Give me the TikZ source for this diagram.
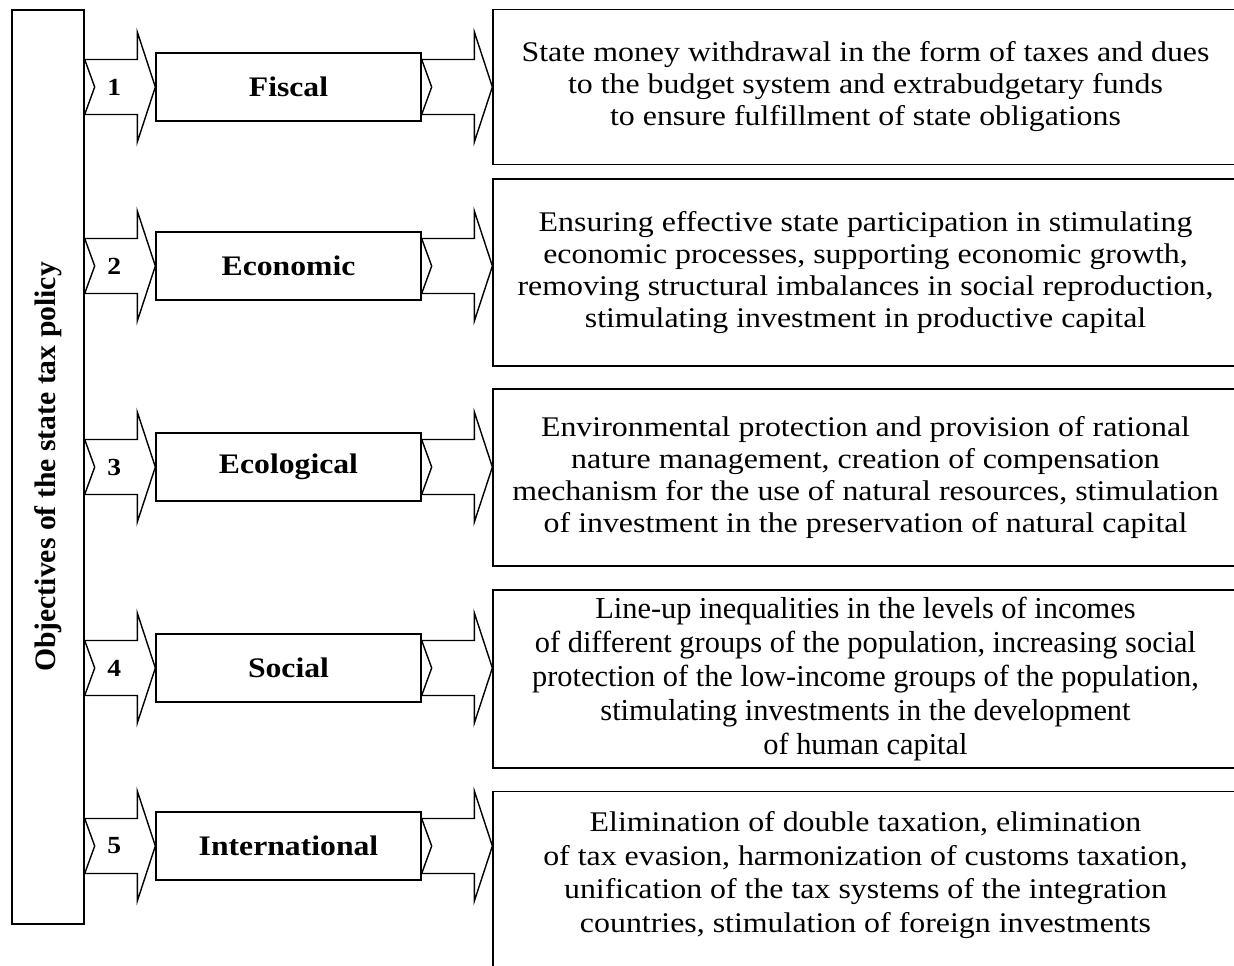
\documentclass[tikz,border=0pt]{standalone}
\usepackage{fontspec}
\setmainfont{Liberation Serif}[FakeStretch=1.12]
\newfontfamily\plainserif{Liberation Serif}
\usetikzlibrary{positioning,calc}

\tikzset{
  boxline/.style={draw, line width=0.8pt, inner sep=0pt},
  objbox/.style={boxline, minimum width=1.44cm, minimum height=18.29cm},
  labelbox/.style={boxline, fill=white, minimum width=5.3cm, minimum height=1.36cm,
    font=\fontsize{16.1}{18}\selectfont\bfseries},
  descbox/.style={boxline, minimum width=14.9cm, align=center,
    font=\fontsize{16.2}{18.2}\selectfont},
  numlabel/.style={font=\fontsize{14}{16}\selectfont\bfseries},
  fatarrow/.style={draw, line width=0.8pt, line join=miter}
}

% wide arrow with notched tail, from #1 to the tip #2
\newcommand{\fatarrow}[2]{%
  \draw[fatarrow] ($(#1)+(0,27.5)$) -- ($(#2)+(-18,27.5)$) -- ($(#2)+(-18,55)$) -- (#2)
    -- ($(#2)+(-18,-55)$) -- ($(#2)+(-18,-27.5)$) -- ($(#1)+(0,-27.5)$)
    -- ($(#1)+(10,0)$) -- cycle;}

\begin{document}
\begin{tikzpicture}[x=0.02cm, y=-0.02cm]
  \clip (0,0) rectangle (1234,965);

  % left column
  \node[objbox] (obj) at (48,467) {};
  \node[rotate=90, font=\plainserif\fontsize{16.9}{20}\selectfont\bfseries] (objtext) at (obj.center)
    {Objectives of the state tax policy};

  % objective kinds
  \node[labelbox] (f1) at (288.5,87) {Fiscal};
  \node[labelbox] (f2) at (288.5,266) {Economic};
  \node[labelbox] (f3) at (288.5,467) {Ecological};
  \node[labelbox] (f4) at (288.5,668) {Social};
  \node[labelbox] (f5) at (288.5,846) {International};

  % descriptions
  \node[descbox, minimum height=3.09cm] (d1) at (865.5,87)
    {State money withdrawal in the form of taxes and dues\\
     to the budget system and extrabudgetary funds\\
     to ensure fulfillment of state obligations};
  \node[descbox, minimum height=3.74cm] (d2) at (865.5,272.5)
    {Ensuring effective state participation in stimulating\\
     economic processes, supporting economic growth,\\
     removing structural imbalances in social reproduction,\\
     stimulating investment in productive capital};
  \node[descbox, minimum height=3.54cm] (d3) at (865.5,477.5)
    {Environmental protection and provision of rational\\
     nature management, creation of compensation\\
     mechanism for the use of natural resources, stimulation\\
     of investment in the preservation of natural capital};
  \node[descbox, minimum height=3.56cm, font=\plainserif\fontsize{17.3}{19.3}\selectfont] (d4) at (865.5,679)
    {Line-up inequalities in the levels of incomes\\
     of different groups of the population, increasing social\\
     protection of the low-income groups of the population,\\
     stimulating investments in the development\\
     of human capital};
  \node[descbox, minimum height=3.8cm, anchor=north] (d5) at (865.5,791) {};
  \node[align=center, font=\fontsize{16.2}{19.2}\selectfont] (d5text) at ($(d5.north)+(0,84)$)
    {Elimination of double taxation, elimination\\
     of tax evasion, harmonization of customs taxation,\\
     unification of the tax systems of the integration\\
     countries, stimulation of foreign investments};

  % arrows
  \foreach \i in {1,...,5} {
    \coordinate (s\i) at (obj.east |- f\i.west);
    \coordinate (t\i) at (d1.west |- f\i.east);
    \fatarrow{s\i}{f\i.west}
    \fatarrow{f\i.east}{t\i}
    \node[numlabel] (n\i) at ($(s\i)!0.42!(f\i.west)$) {\i};
  }
\end{tikzpicture}
\end{document}
